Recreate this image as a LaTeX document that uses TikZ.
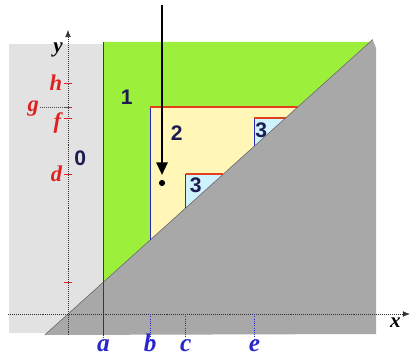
\documentclass[tikz,border=0pt]{standalone}
\usepackage{fontspec}
\setmainfont{Liberation Serif}
\setsansfont{Liberation Sans}
\usetikzlibrary{arrows.meta}
\definecolor{paperLight}{HTML}{E2E2E2}
\definecolor{paperDark}{HTML}{A8A8A8}
\definecolor{zoneGreen}{HTML}{9CF03C}
\definecolor{zoneYellow}{HTML}{FFF6B8}
\definecolor{zoneCyan}{HTML}{CFF2FF}
\definecolor{edgeRed}{HTML}{E0401C}
\definecolor{edgeBlue}{HTML}{2828C8}
\definecolor{lblNavy}{HTML}{1C1C50}
\definecolor{tickRed}{HTML}{E02020}

\begin{document}
\begin{tikzpicture}[x=0.2775cm,y=0.25cm,
  regionLbl/.style={font=\sffamily\bfseries\fontsize{15}{15}\selectfont,text=lblNavy,inner sep=0pt},
  xLbl/.style={font=\bfseries\itshape\fontsize{18}{18}\selectfont,text=edgeBlue,anchor=base,inner sep=0pt},
  yLbl/.style={font=\bfseries\itshape\fontsize{16}{16}\selectfont,text=tickRed,anchor=east,inner sep=0pt},
  axisLbl/.style={font=\bfseries\itshape\fontsize{15}{15}\selectfont,text=black,inner sep=0pt},
  axisArr/.style={densely dotted,black!80,-{Latex[length=5pt,width=4pt]}},
  tickMark/.style={draw=tickRed,thin},
  blueEdge/.style={draw=edgeBlue,thick},
  redEdge/.style={draw=edgeRed,thick},
  dropLine/.style={densely dotted,edgeBlue,semithick},
]
\useasboundingbox (-6.126,-4.2) rectangle (30.9,31.4);

% paper background
\fill[paperLight] (-5.3,-1.9) rectangle (3.2,27.0);
\fill[zoneGreen] (3.2,3.2) -- (3.2,27.2) -- (27.2,27.2) -- cycle;
\fill[zoneYellow] (7.4,7.4) -- (7.4,20.7) -- (20.7,20.7) -- cycle;
\fill[zoneCyan] (10.6,10.6) -- (10.6,14) -- (14,14) -- cycle;
\fill[zoneCyan] (16.8,16.8) -- (16.8,19.6) -- (19.6,19.6) -- cycle;
\fill[paperDark] (-2.1,-2.1) -- (27.45,27.45) -- (27.75,26.6) -- (27.75,-2.0) -- cycle;
\draw[black!60,thin] (-2.1,-2.1) -- (27.45,27.45);

% region edges
\draw[blueEdge] (3.2,-2.1) -- (3.2,27.2);
\draw[blueEdge] (7.4,7.4) -- (7.4,20.7);
\draw[redEdge] (7.4,20.7) -- (20.7,20.7);
\draw[blueEdge] (10.6,10.6) -- (10.6,14);
\draw[redEdge] (10.6,14) -- (14,14);
\draw[blueEdge] (16.8,16.8) -- (16.8,19.6);
\draw[redEdge] (16.8,19.6) -- (19.6,19.6);

% axes
\coordinate (xFrom) at (-5.4,0);
\coordinate (xTo) at (30.8,0);
\coordinate (yFrom) at (0,-2.1);
\coordinate (yTo) at (0,28.4);
\draw[axisArr] (xFrom) -- (xTo);
\draw[axisArr] (yFrom) -- (yTo);
\node[axisLbl] (xName) at (29.5,-0.9) {x};
\node[axisLbl] (yName) at (-0.9,26.4) {y};

% x ticks
\draw[dropLine] (3.2,-2.1) -- (3.2,-2.7);
\foreach \px/\nm in {7.4/b,10.6/c,16.8/e}
  \draw[dropLine] (\px,0) -- (\px,-2.7);
\foreach \px/\nm in {3.2/a,7.4/b,10.6/c,16.8/e}
  \node[xLbl] (lbl\nm) at (\px,-3.75) {\nm};

% y ticks
\foreach \py in {3.2,14,19.6,20.7,23.1}
  \draw[tickMark] (-0.35,\py) -- (0.35,\py);
\draw[densely dotted,black!70] (-2.5,20.7) -- (0,20.7);
\node[yLbl] (lblh) at (-0.5,23.1) {h};
\node[yLbl] (lblg) at (-2.6,20.5) {g};
\node[yLbl] (lblf) at (-0.6,19.1) {f};
\node[yLbl] (lbld) at (-0.5,14) {d};

% region numbers
\node[regionLbl] (zone0) at (1.1,15.6) {0};
\node[regionLbl] (zone1) at (5.3,21.7) {1};
\node[regionLbl] (zone2) at (9.8,18.1) {2};
\node[regionLbl] (zone3a) at (11.5,12.9) {3};
\node[regionLbl] (zone3b) at (17.4,18.4) {3};

% query point
\coordinate (qTop) at (8.47,30.9);
\coordinate (qTip) at (8.47,13.9);
\fill[black] (8.47,13.1) circle[radius=2.2pt];
\draw[line width=1.6pt,-{Triangle[length=9pt,width=8pt]}] (qTop) -- (qTip);
\end{tikzpicture}
\end{document}
